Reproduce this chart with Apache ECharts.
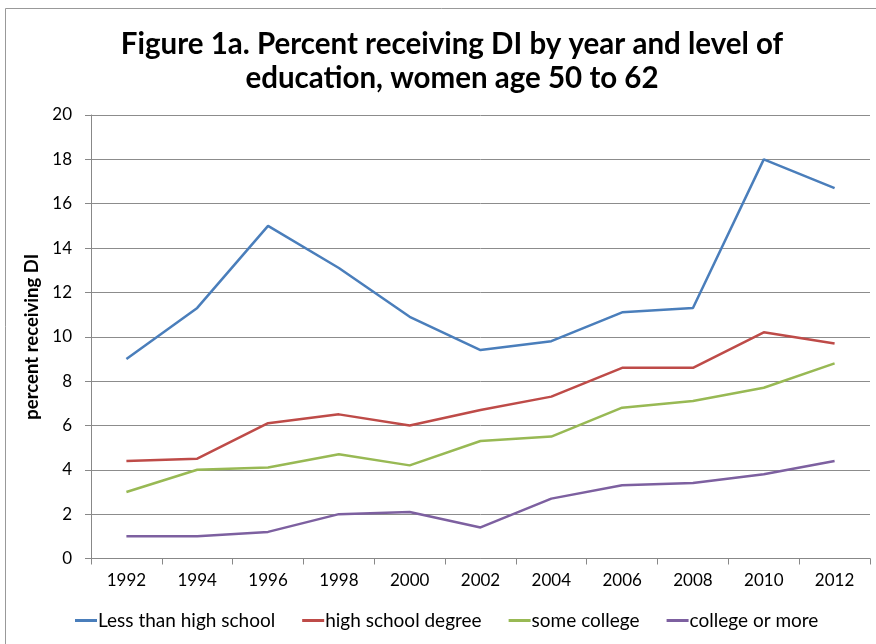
<!DOCTYPE html>
<html>
<head>
<meta charset="utf-8">
<script src="https://cdn.jsdelivr.net/npm/echarts@6/dist/echarts.min.js"></script>
<style>
  html, body { margin: 0; padding: 0; background: #fff; }
  #chart { width: 876px; height: 644px; }
</style>
</head>
<body>
<div id="chart"></div>
<script>
// Survey years on the category axis
const years = ['1992', '1994', '1996', '1998', '2000', '2002', '2004', '2006', '2008', '2010', '2012'];

// Percent receiving DI, women age 50 to 62, by education level
const lessThanHighSchool = [9.0, 11.3, 15.0, 13.1, 10.9, 9.4, 9.8, 11.1, 11.3, 18.0, 16.7];
const highSchoolDegree   = [4.4, 4.5, 6.1, 6.5, 6.0, 6.7, 7.3, 8.6, 8.6, 10.2, 9.7];
const someCollege        = [3.0, 4.0, 4.1, 4.7, 4.2, 5.3, 5.5, 6.8, 7.1, 7.7, 8.8];
const collegeOrMore      = [1.0, 1.0, 1.2, 2.0, 2.1, 1.4, 2.7, 3.3, 3.4, 3.8, 4.4];

const seriesNames = ['Less than high school', 'high school degree', 'some college', 'college or more'];
const seriesData = [lessThanHighSchool, highSchoolDegree, someCollege, collegeOrMore];
const colors = ['#4a7ebb', '#be4b48', '#98b954', '#7d60a0'];

const FONT = 'Lato, "Open Sans", sans-serif';

const chart = echarts.init(document.getElementById('chart'), null, { renderer: 'canvas' });

chart.setOption({
  animation: false,
  color: colors,
  textStyle: { fontFamily: FONT },
  graphic: [{
    type: 'rect',
    shape: { x: 5.5, y: 8.5, width: 880, height: 650 },
    style: { fill: 'none', stroke: '#999', lineWidth: 1 },
    silent: true,
    z: -1
  }],
  title: {
    text: 'Figure 1a. Percent receiving DI by year and level of\neducation, women age 50 to 62',
    left: 447,
    textAlign: 'center',
    top: 22,
    textStyle: { fontFamily: FONT, fontSize: 29.5, fontWeight: 'bold', color: '#000', lineHeight: 34 }
  },
  grid: { left: 91, right: 6, top: 115, bottom: 85.5, containLabel: false },
  legend: {
    data: seriesNames,
    bottom: 9,
    left: 70,
    itemWidth: 22,
    itemHeight: 3,
    itemGap: 27,
    icon: 'rect',
    textStyle: { fontFamily: FONT, fontSize: 19, color: '#000', padding: [0, 0, 0, -4] }
  },
  xAxis: {
    type: 'category',
    data: years,
    boundaryGap: true,
    axisLine: { lineStyle: { color: '#888', width: 1 } },
    axisTick: { show: true, length: 6, lineStyle: { color: '#888' } },
    axisLabel: { fontFamily: FONT, fontSize: 17, color: '#000', margin: 14 }
  },
  yAxis: {
    type: 'value',
    min: 0,
    max: 20,
    interval: 2,
    name: 'percent receiving DI',
    nameLocation: 'middle',
    nameGap: 44,
    nameTextStyle: { fontFamily: FONT, fontSize: 18.5, fontWeight: 'bold', color: '#000' },
    axisLine: { show: true, lineStyle: { color: '#888', width: 1 } },
    axisTick: { show: true, length: 6, lineStyle: { color: '#888' } },
    axisLabel: { fontFamily: FONT, fontSize: 17, color: '#000', margin: 19 },
    splitLine: { lineStyle: { color: '#8c8c8c', width: 1 } }
  },
  series: seriesNames.map((name, i) => ({
    name: name,
    type: 'line',
    data: seriesData[i],
    symbol: 'none',
    lineStyle: { width: 2.5, color: colors[i] },
    itemStyle: { color: colors[i] }
  }))
});
</script>
</body>
</html>
